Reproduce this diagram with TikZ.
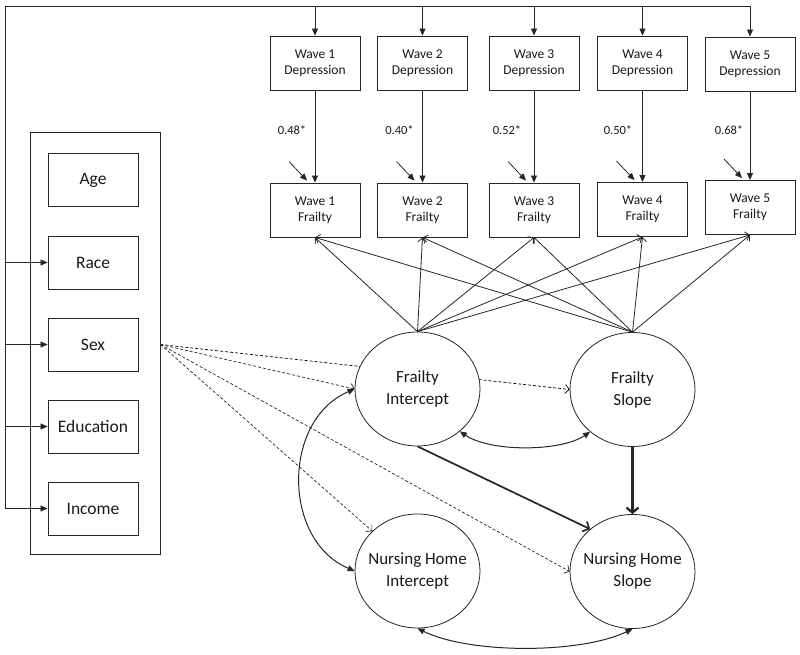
\documentclass[tikz,border=0pt]{standalone}
\usepackage{fontspec}
\setmainfont{Carlito}
\usetikzlibrary{arrows.meta,shapes.geometric}
\pgfdeclarelayer{bg}
\pgfsetlayers{bg,main}
\begin{document}
\begin{tikzpicture}[x=1pt,y=-1pt, color=black!85, line width=0.8pt,
  box/.style={draw=black!85, line width=0.9pt, minimum width=90pt, minimum height=54pt,
    inner sep=0pt, align=center, text=black!90, font=\fontsize{13.5}{16}\selectfont},
  covbox/.style={box, minimum height=53pt, font=\fontsize{17.5}{20}\selectfont},
  lat/.style={ellipse, draw=black!85, line width=0.8pt, fill=white, minimum width=125pt,
    minimum height=114pt, inner sep=0pt},
  ltxt/.style={align=center, text=black!90, font=\fontsize{17}{22}\selectfont},
  coef/.style={text=black!90, font=\fontsize{12.5}{14}\selectfont, inner sep=0pt},
  tri/.style={-{Triangle[length=7pt,width=6pt]}},
  dtri/.style={line width=1pt, {Triangle[length=7pt,width=6pt]}-{Triangle[length=7pt,width=6pt]}},
  barb/.style={-{Straight Barb[length=4pt,width=9pt]}},
  dasharr/.style={dashed, dash pattern=on 3pt off 2pt, line width=0.7pt, -{Straight Barb[length=4pt,width=9pt]}},
  thickarr/.style={line width=1.7pt, -{Straight Barb[length=5pt,width=11pt]}},
  thickerarr/.style={line width=2.3pt, -{Straight Barb[length=5pt,width=12pt]}}
]
\useasboundingbox (0,0) rectangle (800,655);

% depression boxes
\node[box] (d1) at (315,63) {Wave 1\\Depression};
\node[box] (d2) at (422.5,63) {Wave 2\\Depression};
\node[box] (d3) at (534,63) {Wave 3\\Depression};
\node[box] (d4) at (642.5,63) {Wave 4\\Depression};
\node[box] (d5) at (750,64) {Wave 5\\Depression};

% frailty boxes
\node[box] (f1) at (315,210) {Wave 1\\Frailty};
\node[box] (f2) at (422.5,210) {Wave 2\\Frailty};
\node[box] (f3) at (534,210) {Wave 3\\Frailty};
\node[box] (f4) at (642.5,209.5) {Wave 4\\Frailty};
\node[box] (f5) at (750,207.5) {Wave 5\\Frailty};

% coefficients
\node[coef] (c1) at (292,130) {0.48*};
\node[coef] (c2) at (399.5,130) {0.40*};
\node[coef] (c3) at (507,130) {0.52*};
\node[coef] (c4) at (618,130) {0.50*};
\node[coef] (c5) at (729,130) {0.68*};

% covariates
\node[draw=black!85, line width=0.9pt, minimum width=130pt, minimum height=422pt, inner sep=0pt] (cov) at (95,343) {};
\node[covbox] (age) at (93,180) {Age};
\node[covbox] (race) at (93,262.5) {Race};
\node[covbox] (sex) at (93,344.5) {Sex};
\node[covbox] (edu) at (93,426.5) {Education};
\node[covbox] (inc) at (93,508.5) {Income};

% latent variables
\node[lat, label={[ltxt]center:{Frailty\\Intercept}}] (fi) at (417.5,389) {};
\node[lat, label={[ltxt]center:{Frailty\\Slope}}] (fs) at (632.5,389.5) {};
\node[lat, label={[ltxt]center:{Nursing Home\\Intercept}}] (nhi) at (417.5,571) {};
\node[lat, label={[ltxt]center:{Nursing Home\\Slope}}] (nhs) at (632.5,571.5) {};

% bus
\coordinate (bus) at (5,6);
\coordinate (sexR) at (cov.east |- sex);
\draw (bus) -- (bus -| d5);
\draw (bus) -- (bus |- inc);
\foreach \n in {d1,d2,d3,d4,d5} \draw[tri] (bus -| \n) -- (\n);
\foreach \n in {race,sex,edu,inc} \draw[tri] (bus |- \n) -- (\n);

% depression -> frailty
\foreach \i in {1,...,5} {
  \draw[tri] (d\i) -- (f\i);
  \draw[tri] ([shift={(-26,-21)}]f\i.north) -- ([shift={(-8,-2)}]f\i.north);
}

% loadings
\foreach \i in {1,...,5} {
  \draw[barb] (fi.north) -- (f\i.south);
  \draw[barb] (fs.north) -- (f\i.south);
}

% dashed covariate paths
\begin{pgfonlayer}{bg}
\draw[dasharr] (sexR) -- (fs.west);
\end{pgfonlayer}
\draw[dasharr] (sexR) -- (fi.west);
\draw[dasharr] (sexR) -- (nhi);
\draw[dasharr] (sexR) -- (nhs.west);

% covariances
\draw[dtri] (fi.west) .. controls (282,420) and (282,540) .. (nhi.west);
\draw[dtri] (fi.-45) .. controls (490,452) and (560,452) .. (fs.-135);
\draw[dtri] (nhi.south) .. controls (470,654) and (580,654) .. (nhs.south);

% structural paths
\draw[thickarr] (fi.south) -- (nhs.135);
\draw[thickerarr] (fs.south) -- (nhs.north);
\end{tikzpicture}
\end{document}
